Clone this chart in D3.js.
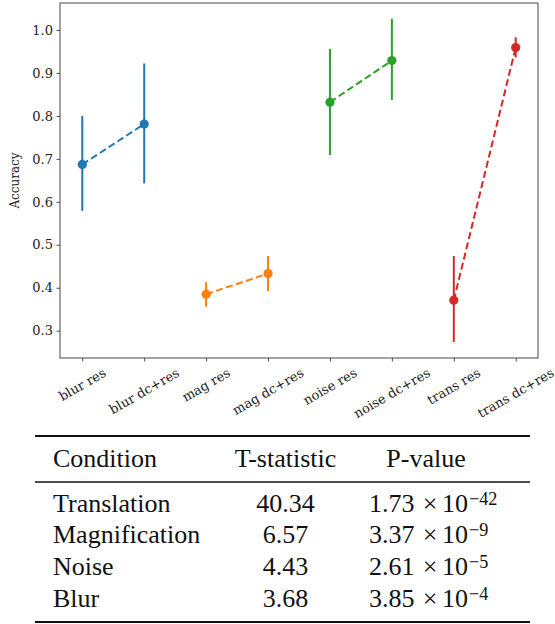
<!DOCTYPE html>
<html>
<head>
<meta charset="utf-8">
<script src="https://cdn.jsdelivr.net/npm/d3@7"></script>
<style>
  html, body { margin: 0; padding: 0; background: #fff; }
  svg { display: block; }
</style>
</head>
<body>
<svg id="chart" width="555" height="624"></svg>
<script>
// ---- chart data ----
const categories = ["blur res", "blur dc+res", "mag res", "mag dc+res", "noise res", "noise dc+res", "trans res", "trans dc+res"];
const means  = [0.687, 0.781, 0.385, 0.433, 0.832, 0.929, 0.371, 0.959];
const ciLow  = [0.579, 0.643, 0.356, 0.392, 0.709, 0.837, 0.274, 0.936];
const ciHigh = [0.800, 0.922, 0.413, 0.474, 0.956, 1.026, 0.474, 0.983];
const groupColors = ["#1f77b4", "#ff7f0e", "#2ca02c", "#d62728"];
const yTicks = [0.3, 0.4, 0.5, 0.6, 0.7, 0.8, 0.9, 1.0];
const yLabel = "Accuracy";

// ---- table data ----
const tableHeaders = ["Condition", "T-statistic", "P-value"];
const conditions = ["Translation", "Magnification", "Noise", "Blur"];
const tStats = ["40.34", "6.57", "4.43", "3.68"];
const pMantissa = ["1.73", "3.37", "2.61", "3.85"];
const pExponent = ["\u221242", "\u22129", "\u22125", "\u22124"];

const svg = d3.select("#chart");
const plot = { left: 60, right: 538, top: 3, bottom: 358 };

const x = d3.scalePoint().domain(categories).range([plot.left, plot.right]).padding(0.36);
const y = d3.scaleLinear().domain([0.2365, 1.0628]).range([plot.bottom, plot.top]);

const tickFont = "'DejaVu Serif', serif";

// y axis
const yAxis = svg.append("g")
  .attr("transform", `translate(${plot.left},0)`)
  .call(d3.axisLeft(y).tickValues(yTicks).tickFormat(d3.format(".1f")).tickSize(3.5).tickPadding(3.5))
  .attr("font-family", tickFont).attr("font-size", 13);
yAxis.select(".domain").remove();
yAxis.selectAll("line").attr("stroke", "#222").attr("stroke-width", 0.8);
yAxis.selectAll("text").attr("font-family", tickFont).attr("font-size", 13).attr("fill", "#222");

// x axis (ticks only; labels drawn rotated)
const xAxis = svg.append("g")
  .attr("transform", `translate(0,${plot.bottom})`)
  .call(d3.axisBottom(x).tickSize(3.5).tickFormat(""));
xAxis.select(".domain").remove();
xAxis.selectAll("line").attr("stroke", "#222").attr("stroke-width", 0.8);

// rotated x labels (matplotlib style: rotation=30, ha=center, va=top)
const labelTop = plot.bottom + 7;
const fs = 13, H = fs * 1.16, ang = 30 * Math.PI / 180;
categories.forEach(c => {
  const t = svg.append("text")
    .attr("font-family", tickFont).attr("font-size", fs).attr("fill", "#222")
    .attr("text-anchor", "middle").attr("dy", "0.35em")
    .text(c);
  const L = t.node().getComputedTextLength();
  const bh = L * Math.sin(ang) + H * Math.cos(ang);
  const cx = x(c), cy = labelTop + bh / 2;
  t.attr("x", cx).attr("y", cy).attr("transform", `rotate(-30,${cx},${cy})`);
});

// frame
svg.append("rect")
  .attr("x", plot.left).attr("y", plot.top)
  .attr("width", plot.right - plot.left).attr("height", plot.bottom - plot.top)
  .attr("fill", "none").attr("stroke", "#333").attr("stroke-width", 0.9);

// y label
svg.append("text")
  .attr("font-family", tickFont).attr("font-size", 12).attr("fill", "#222")
  .attr("text-anchor", "middle")
  .attr("transform", `translate(19,${(plot.top + plot.bottom) / 2}) rotate(-90)`)
  .text(yLabel);

// marks
const pts = categories.map((c, i) => ({ c, m: means[i], lo: ciLow[i], hi: ciHigh[i], g: Math.floor(i / 2) }));
const groups = d3.groups(pts, d => d.g);
const marks = svg.append("g");
groups.forEach(([g, arr]) => {
  const col = groupColors[g];
  marks.append("path")
    .datum(arr)
    .attr("d", d3.line().x(d => x(d.c)).y(d => y(d.m)))
    .attr("fill", "none").attr("stroke", col).attr("stroke-width", 2)
    .attr("stroke-dasharray", "7,3.5");
  arr.forEach(d => {
    marks.append("line")
      .attr("x1", x(d.c)).attr("x2", x(d.c))
      .attr("y1", y(d.lo)).attr("y2", y(d.hi))
      .attr("stroke", col).attr("stroke-width", 2);
  });
  arr.forEach(d => {
    marks.append("circle")
      .attr("cx", x(d.c)).attr("cy", y(d.m)).attr("r", 4.6)
      .attr("fill", col);
  });
});

// ---- table ----
const tableFont = "'Liberation Serif', 'Times New Roman', serif";
const tfs = 26;
const tbl = svg.append("g").attr("font-family", tableFont).attr("font-size", tfs).attr("fill", "#111");
const ruleX1 = 35, ruleX2 = 530;
tbl.append("line").attr("x1", ruleX1).attr("x2", ruleX2).attr("y1", 436).attr("y2", 436).attr("stroke", "#111").attr("stroke-width", 2);
tbl.append("line").attr("x1", ruleX1).attr("x2", ruleX2).attr("y1", 482).attr("y2", 482).attr("stroke", "#111").attr("stroke-width", 1.3);
tbl.append("line").attr("x1", ruleX1).attr("x2", ruleX2).attr("y1", 622).attr("y2", 622).attr("stroke", "#111").attr("stroke-width", 2);

const colX = [53, 285.5, 426];
const headerY = 466.5;
tbl.append("text").attr("x", colX[0]).attr("y", headerY).attr("text-anchor", "start").text(tableHeaders[0]);
tbl.append("text").attr("x", colX[1]).attr("y", headerY).attr("text-anchor", "middle").text(tableHeaders[1]);
tbl.append("text").attr("x", colX[2]).attr("y", headerY).attr("text-anchor", "middle").text(tableHeaders[2]);

const rowY = d3.scaleLinear().domain([0, 3]).range([511.7, 606.7]);
conditions.forEach((cond, i) => {
  const yy = rowY(i);
  tbl.append("text").attr("x", colX[0]).attr("y", yy).text(cond);
  tbl.append("text").attr("x", colX[1]).attr("y", yy).attr("text-anchor", "middle").text(tStats[i]);
  // P-value cell laid out like LaTeX math: mantissa, ×, 10, superscript exponent
  tbl.append("text").attr("x", 369).attr("y", yy).text(pMantissa[i]);
  tbl.append("text").attr("x", 430).attr("y", yy).attr("text-anchor", "middle").text("\u00d7");
  tbl.append("text").attr("x", 442).attr("y", yy).text("10");
  tbl.append("text").attr("x", 469).attr("y", yy - 7).attr("font-size", tfs * 0.7).text(pExponent[i]);
});
</script>
</body>
</html>
